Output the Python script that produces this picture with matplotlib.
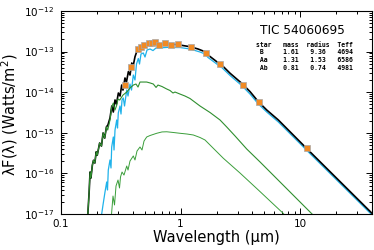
import matplotlib
matplotlib.use('Agg')
import matplotlib.pyplot as plt

plt.rcParams['font.family'] = ['DejaVu Sans']

# Photometry (orange squares), wavelength in micron, lambda*F in W/m^2
obs_wave = [0.344, 0.383, 0.438, 0.467, 0.498, 0.548, 0.581, 0.615, 0.665, 0.746,
            0.833, 0.948, 1.22, 1.63, 2.15, 3.32, 4.57, 11.5]
obs_flux = [1.48e-14, 4.25e-14, 1.16e-13, 1.32e-13, 1.43e-13, 1.66e-13, 1.66e-13, 1.75e-13,
            1.45e-13, 1.66e-13, 1.48e-13, 1.51e-13, 1.32e-13, 9.2e-14, 4.95e-14, 1.50e-14,
            5.83e-15, 4.15e-16]

# Total model SED (black)
tot_wave = [0.167, 0.172, 0.175, 0.178, 0.183, 0.187, 0.192, 0.197, 0.201, 0.2105,
            0.218, 0.225, 0.232, 0.240,
            0.247, 0.257, 0.266, 0.274, 0.283, 0.291, 0.302, 0.312, 0.322, 0.330,
            0.343, 0.353, 0.366, 0.378, 0.391, 0.400, 0.416, 0.435, 0.458, 0.476,
            0.505, 0.535, 0.556, 0.589, 0.624, 0.674, 0.742, 0.817, 0.899, 0.99,
            1.2, 1.4, 1.6, 1.7, 2.01, 2.21, 2.6, 3.25, 3.82, 4.48, 5.26, 6.58, 11.7, 40]
tot_flux = [8e-18, 3.5e-17, 1.08e-16, 7.7e-17, 1.6e-16, 2.1e-16, 1.8e-16, 3.4e-16, 2.8e-16, 5.6e-16,
            4.7e-16, 9.9e-16, 7.4e-16, 1.4e-15,
            1.56e-15, 2.32e-15, 4.57e-15, 3.25e-15, 6.43e-15, 5.12e-15, 9.55e-15, 8.05e-15, 1.5e-14, 1.13e-14,
            2.24e-14, 1.78e-14, 3.2e-14, 2.65e-14, 5.24e-14, 4.18e-14, 7.48e-14, 1.095e-13, 1.23e-13, 1.37e-13,
            1.36e-13, 1.5e-13, 1.43e-13, 1.54e-13, 1.5e-13, 1.54e-13, 1.52e-13, 1.5e-13, 1.5e-13, 1.45e-13,
            1.32e-13, 1.16e-13, 9.95e-14, 8.24e-14, 5.64e-14, 4.68e-14, 2.92e-14, 1.66e-14, 1.03e-14, 5.83e-15,
            3.65e-15, 2.07e-15, 3.77e-16, 1.04e-17]

# Star B (giant, cyan)
b_wave = [0.219, 0.2246, 0.2334, 0.2412, 0.2449, 0.2487, 0.257, 0.262, 0.2656, 0.274,
          0.2777, 0.2831, 0.2924, 0.297, 0.3016, 0.3116, 0.3177, 0.324, 0.332, 0.34,
          0.3547, 0.3637, 0.3778, 0.389, 0.4027, 0.4159, 0.4282, 0.4434, 0.4538, 0.467,
          0.4883, 0.5045, 0.5245, 0.5557, 0.5886, 0.6237, 0.674, 0.742, 0.817, 0.899,
          0.99, 1.2, 1.456, 1.603, 1.698, 2.01, 2.212, 2.596, 3.252, 3.816,
          4.477, 5.264, 6.58, 11.74, 40.05]
b_flux = [1e-17, 1.67e-17, 3.48e-17, 6.14e-17, 3.9e-17, 1.21e-16, 2.14e-16, 1.36e-16, 4.47e-16, 7.89e-16,
          3.77e-16, 1.17e-15, 2.07e-15, 1.31e-15, 3.08e-15, 4.57e-15, 2.9e-15, 6.43e-15, 7.2e-15, 4.57e-15,
          1.13e-14, 8.05e-15, 1.59e-14, 1.13e-14, 2.65e-14, 2.0e-14, 4.95e-14, 6.76e-14, 4.95e-14, 8.73e-14,
          9.24e-14, 7.36e-14, 1.095e-13, 1.16e-13, 1.06e-13, 1.23e-13, 1.23e-13, 1.26e-13, 1.28e-13, 1.26e-13,
          1.26e-13, 1.16e-13, 9.77e-14, 8.73e-14, 7.16e-14, 4.95e-14, 4.06e-14, 2.58e-14, 1.46e-14, 9.0e-15,
          5.12e-15, 3.25e-15, 1.85e-15, 3.37e-16, 9.44e-18]

# Star Aa (green, middle)
aa_wave = [0.167, 0.172, 0.175, 0.178, 0.183, 0.187, 0.192, 0.197, 0.201, 0.2105,
           0.218, 0.225, 0.232, 0.240, 0.246, 0.257, 0.266, 0.274, 0.283, 0.293,
           0.300, 0.310, 0.330, 0.355, 0.378, 0.403, 0.424, 0.441, 0.458, 0.486,
           0.521, 0.556, 0.592, 0.624, 0.648, 0.700, 0.766, 0.817, 0.865, 0.899,
           0.99, 1.09, 1.2, 1.456, 1.766, 2.14, 2.436, 2.86, 3.58, 4.63,
           7.21, 12.6, 13.5]
aa_flux = [8e-18, 3.5e-17, 1.08e-16, 7.7e-17, 1.6e-16, 2.1e-16, 1.8e-16, 3.4e-16, 2.8e-16, 5.6e-16,
           4.7e-16, 9.9e-16, 7.4e-16, 1.4e-15, 1.17e-15, 2.07e-15, 4.4e-15, 5.4e-15, 3.65e-15, 4.84e-15,
           6.8e-15, 6.4e-15, 8.5e-15, 1.01e-14, 1.27e-14, 1.5e-14, 1.59e-14, 1.34e-14, 1.78e-14, 1.78e-14,
           1.78e-14, 1.69e-14, 1.59e-14, 1.31e-14, 1.5e-14, 1.38e-14, 1.2e-14, 1.1e-14, 9.55e-15, 1.01e-14,
           9.0e-15, 8.05e-15, 7.0e-15, 4.57e-15, 3.16e-15, 2.07e-15, 1.39e-15, 8.34e-16, 3.99e-16, 1.91e-16,
           5.18e-17, 1.0e-17, 8.2e-18]

# Star Ab (green, lowest)
ab_wave = [0.264, 0.2723, 0.2804, 0.2886, 0.2999, 0.3087, 0.3147, 0.324, 0.3366, 0.3547,
           0.3637, 0.3778, 0.4027, 0.4159, 0.4325, 0.4581, 0.4762, 0.4951, 0.5214, 0.5557,
           0.6322, 0.700, 0.766, 0.865, 0.99, 1.133, 1.28, 1.456, 1.603, 1.907,
           2.281, 3.148, 4.477, 5.61, 7.25, 7.6]
ab_flux = [9e-18, 2.77e-17, 1.67e-17, 4.9e-17, 6.87e-17, 4.37e-17, 8.15e-17, 1.08e-16, 9.1e-17, 1.52e-16,
           1.21e-16, 2.02e-16, 2.69e-16, 2.14e-16, 3.56e-16, 4.47e-16, 3.77e-16, 6.28e-16, 7.89e-16, 8.57e-16,
           9.73e-16, 1.05e-15, 1.06e-15, 1.02e-15, 9.73e-16, 9.33e-16, 8.83e-16, 7.66e-16, 6.65e-16, 3.99e-16,
           2.36e-16, 1.02e-16, 3.9e-17, 2.09e-17, 1.03e-17, 8.5e-18]

# Stellar parameters table
table_header = 'star   mass  radius  Teff'
table_rows = [' B     1.61   9.36   4694',
              ' Aa    1.31   1.53   6586',
              ' Ab    0.81   0.74   4981']
title = 'TIC 54060695'

# Axis ticks
x_ticks = [0.1, 1, 10]
x_ticklabels = ['0.1', '1', '10']
y_decades = [-17, -16, -15, -14, -13, -12]

fig = plt.figure(figsize=(3.74, 2.5), dpi=100)
ax = fig.add_axes([61 / 374, 36 / 250, 311 / 374, 203 / 250])

ax.plot(b_wave, b_flux, color='#1fb2ea', lw=0.9, zorder=2)
ax.plot(tot_wave, tot_flux, color='black', lw=1.2, zorder=3)
ax.plot(aa_wave, aa_flux, color='#2f8f2f', lw=0.8, zorder=4)
ax.plot(ab_wave, ab_flux, color='#3a9e3a', lw=0.7, zorder=4)
ax.plot(obs_wave, obs_flux, 's', ms=4.3, mfc='#f08a24', mec='#a8a8a8', mew=0.5, zorder=5)

ax.set_xscale('log')
ax.set_yscale('log')
ax.set_xlim(0.1, 40)
ax.set_ylim(1e-17, 1e-12)
ax.set_xticks(x_ticks, x_ticklabels)
ax.set_xticks([m * 10.0 ** d for d in (-1, 0, 1) for m in range(2, 10) if m * 10.0 ** d <= 40],
              minor=True)
ax.set_yticks([10.0 ** d for d in y_decades],
              [r'$\mathdefault{10^{%d}}$' % d for d in y_decades])
ax.set_yticks([m * 10.0 ** d for d in y_decades[:-1] for m in range(2, 10)], minor=True)
ax.yaxis.set_minor_formatter(plt.NullFormatter())
ax.xaxis.set_minor_formatter(plt.NullFormatter())

ax.tick_params(which='both', direction='in', top=True, right=True, labelsize=7.5, width=0.7)
ax.tick_params(which='major', length=4)
ax.tick_params(which='minor', length=2.2)
ax.tick_params(axis='y', pad=5)
ax.tick_params(axis='x', pad=3.5)
for s in ax.spines.values():
    s.set_linewidth(0.8)

ax.set_xlabel('Wavelength (μm)', fontsize=10.5)
ax.set_ylabel(r'λF(λ) (Watts/m$^2$)', fontsize=10.5)
ax.xaxis.set_label_coords(0.498, -0.08)
ax.yaxis.set_label_coords(-0.133, 0.49)

fig.text(302.5 / 374, 1 - 30 / 250, title, ha='center', va='center', fontsize=8.7)
fig.text(256 / 374, 1 - 45 / 250, table_header, family='DejaVu Sans Mono', fontsize=4.7,
         weight='bold', va='center', ha='left')
for i, row in enumerate(table_rows):
    fig.text(256 / 374, 1 - (52.5 + 7.6 * i) / 250, row, family='DejaVu Sans Mono',
             fontsize=4.7, weight='bold', va='center', ha='left')

fig.savefig('out.png', dpi=100)
